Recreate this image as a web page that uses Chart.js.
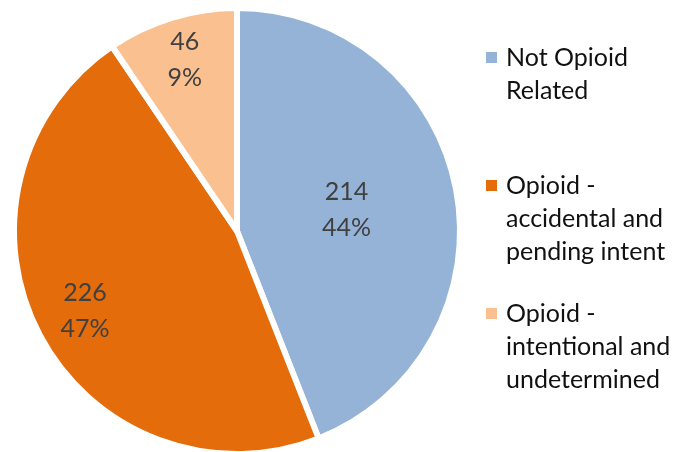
<!DOCTYPE html>
<html>
<head>
<meta charset="utf-8">
<script src="https://cdn.jsdelivr.net/npm/chart.js@4.4.0/dist/chart.umd.min.js"></script>
<style>
  html, body { margin: 0; padding: 0; background: #fff; overflow: hidden; }
  #wrap { position: relative; width: 687px; height: 452px; overflow: hidden; }
  #legend { position: absolute; left: 486px; top: 40px; font-family: Lato, "Noto Sans", sans-serif; font-size: 25px; color: #111; }
  .item { position: relative; height: 128px; padding-left: 20px; line-height: 33px; }
  .box { position: absolute; left: 0; top: 12px; width: 11px; height: 11px; }
</style>
</head>
<body>
<div id="wrap">
  <canvas id="pieChart" width="687" height="462"></canvas>
  <div id="legend"></div>
</div>
<script>
// データ
const categories = [
  ['Not Opioid', 'Related'],
  ['Opioid -', 'accidental and', 'pending intent'],
  ['Opioid -', 'intentional and', 'undetermined']
];
const deaths = [214, 226, 46];
const colors = ['#95b3d7', '#e46c0a', '#fac090'];

const total = deaths.reduce((a, b) => a + b, 0);

// ラベル描画 (値 + %)
const sliceLabels = {
  id: 'sliceLabels',
  afterDatasetsDraw(chart, args, opts) {
    const ctx = chart.ctx;
    const arcs = chart.getDatasetMeta(0).data;
    ctx.save();
    ctx.font = '25px Lato, "Noto Sans", sans-serif';
    ctx.fillStyle = '#404040';
    ctx.textAlign = 'center';
    ctx.textBaseline = 'middle';
    arcs.forEach((arc, i) => {
      const mid = (arc.startAngle + arc.endAngle) / 2;
      const r = arc.outerRadius * opts.dist[i];
      const x = arc.x + Math.cos(mid) * r;
      const y = arc.y + Math.sin(mid) * r;
      const pct = Math.round(deaths[i] / total * 100) + '%';
      ctx.fillText(String(deaths[i]), x, y - 18);
      ctx.fillText(pct, x, y + 18);
    });
    ctx.restore();
  }
};

let pieCtx = document.getElementById('pieChart');
let pieChart = new Chart(pieCtx, {
  type: 'pie',
  data: {
    labels: categories,
    datasets: [{
      data: deaths,
      backgroundColor: colors,
      borderColor: '#ffffff',
      borderWidth: 6
    }]
  },
  options: {
    responsive: false,
    animation: false,
    layout: { padding: { left: 11, right: 224, top: 5, bottom: 5 } },
    plugins: {
      legend: { display: false },
      tooltip: { enabled: false },
      sliceLabels: { dist: [0.5, 0.77, 0.8] }
    }
  },
  plugins: [sliceLabels]
});

// 凡例
const legendEl = document.getElementById('legend');
categories.forEach((lines, i) => {
  const item = document.createElement('div');
  item.className = 'item';
  const box = document.createElement('span');
  box.className = 'box';
  box.style.background = colors[i];
  item.appendChild(box);
  const txt = document.createElement('div');
  txt.innerHTML = lines.join('<br>');
  item.appendChild(txt);
  legendEl.appendChild(item);
});
</script>
</body>
</html>
